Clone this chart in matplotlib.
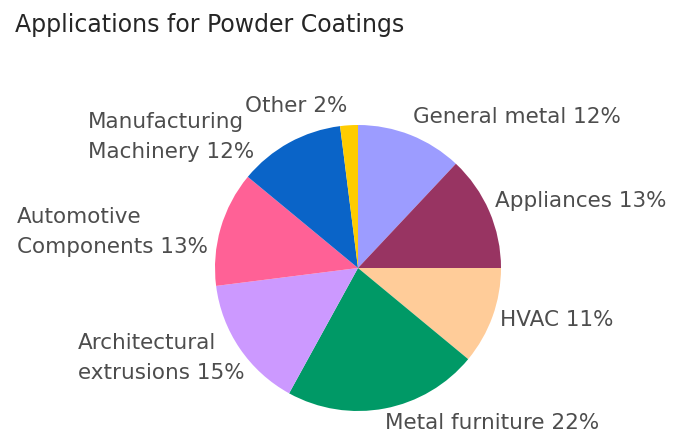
import matplotlib
matplotlib.use("Agg")
import matplotlib.pyplot as plt

# Market share of powder coating applications (percent), clockwise from 12 o'clock
categories = ["General metal", "Appliances", "HVAC", "Metal furniture",
              "Architectural\nextrusions", "Automotive\nComponents",
              "Manufacturing\nMachinery", "Other"]
shares = [12, 13, 11, 22, 15, 13, 12, 2]
colors = ["#9c9cff", "#983462", "#ffcc99", "#009966",
          "#cc99ff", "#ff6196", "#0a64c8", "#ffcc00"]

W, H = 673, 444
fig = plt.figure(figsize=(W / 100, H / 100), dpi=100)
fig.patch.set_facecolor("white")

# pie centre and radius in pixels
cx, cy, r = 358, 268, 143
ax = fig.add_axes([(cx - r) / W, (H - cy - r) / H, 2 * r / W, 2 * r / H])
ax.pie(shares, colors=colors, startangle=90, counterclock=False,
       radius=1.0, wedgeprops=dict(linewidth=0))
ax.set_xlim(-1, 1)
ax.set_ylim(-1, 1)
ax.set_aspect("equal")
ax.axis("off")

fig.text(15 / W, 1 - 32 / H, "Applications for Powder Coatings",
         fontsize=17, color="#262626", ha="left", va="baseline",
         family="DejaVu Sans")

# label anchor (left x, vertical centre y) in pixels, one per slice
label_pos = [(413, 117), (495, 201), (500, 320), (385, 423),
             (78, 358), (17, 232), (88, 137), (245, 106)]
for name, val, (lx, ly) in zip(categories, shares, label_pos):
    fig.text(lx / W, 1 - ly / H, f"{name} {val}%", fontsize=15.5,
             color="#4d4d4d", ha="left", va="center", linespacing=1.65,
             family="DejaVu Sans")

fig.savefig("out.png", dpi=100, facecolor="white")
